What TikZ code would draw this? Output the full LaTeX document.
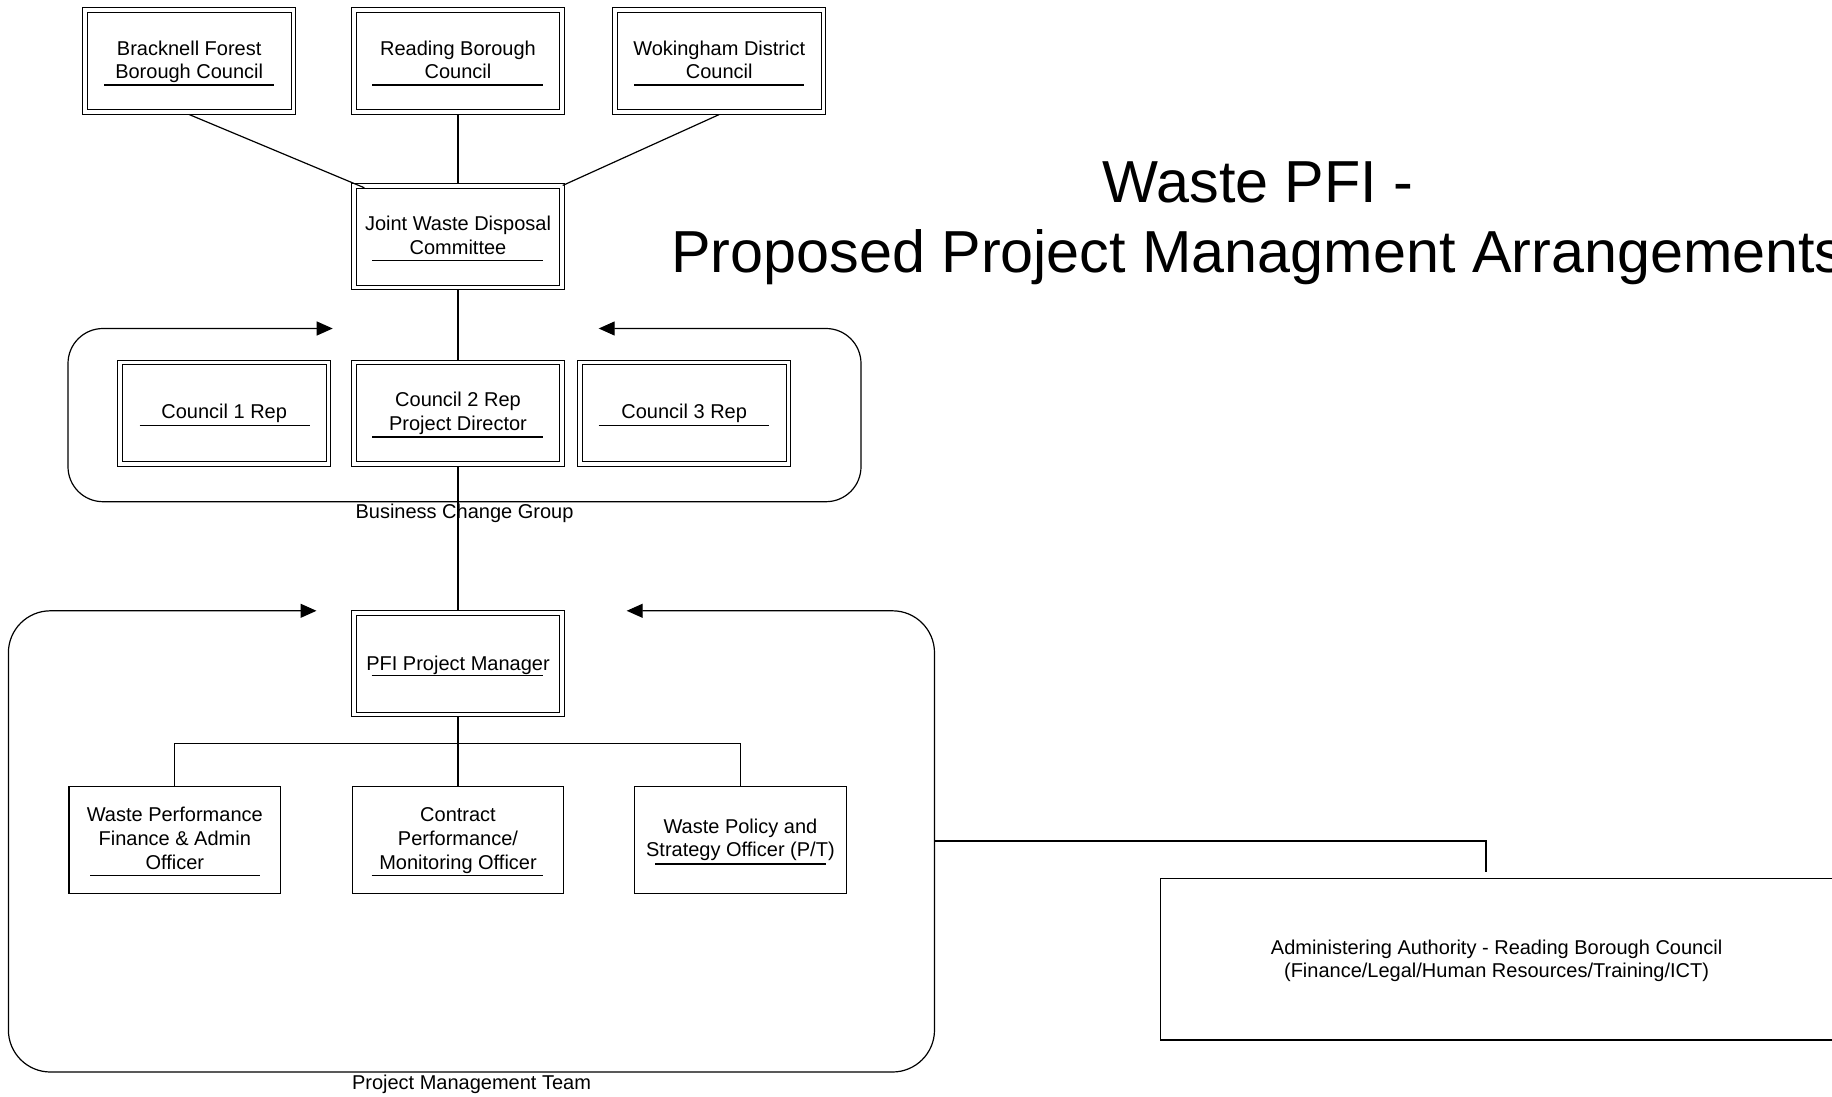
\documentclass[tikz,border=0pt]{standalone}
\usepackage{fontspec}
\setmainfont{Liberation Sans}
\usetikzlibrary{arrows.meta}
\begin{document}
\begin{tikzpicture}[x=1pt,y=-1pt,
  dbox/.style={draw, double, line width=1pt, double distance=3.6pt,
    minimum width=208.4pt, minimum height=101.5pt, inner sep=0pt},
  sbox/.style={draw, line width=1.2pt, minimum width=211.6pt,
    minimum height=106.6pt, inner sep=0pt},
  % multi-line texts are placed by the baseline of their last line
  txt/.style={anchor=base, align=center, inner sep=0pt,
    font=\fontsize{20}{23.7}\selectfont},
  uline/.style={line width=1.2pt},
  link/.style={line width=1.2pt},
  group/.style={line width=1.2pt, rounded corners=#1,
    {Triangle[length=16pt,width=14pt]}-{Triangle[length=16pt,width=14pt]}},
]
\useasboundingbox (0,0) rectangle (1832,1097);
\fill[white] (0,0) rectangle (1832,1097);
\clip (0,0) rectangle (1832,1097);

% councils and committee
\node[dbox] (brack) at (189.2,61) {};
\node[dbox] (read) at (458,61) {};
\node[dbox] (wok) at (719.2,61) {};
\node[dbox] (joint) at (458,236.7) {};
\node[txt] (brackT) at (189.2,79) {Bracknell Forest\\Borough Council};
\node[txt] (readT) at (458,79) {Reading Borough\\Council};
\node[txt] (wokT) at (719.2,79) {Wokingham District\\Council};
\node[txt] (jointT) at (458,254) {Joint Waste Disposal\\Committee};
\draw[uline] (104,85) -- (274,85);
\draw[uline] (372.3,85) -- (543,85);
\draw[uline] (634,85) -- (804.3,85);
\draw[uline] (372.3,260.7) -- (543,260.7);

% business change group
\draw[group=35pt] (332.7,328.5) -- (68,328.5) -- (68,501.7) -- (861,501.7)
  -- (861,328.5) -- (598.7,328.5);
\node[dbox] (c1) at (224.2,413.3) {};
\node[dbox] (c2) at (458,413.3) {};
\node[dbox] (c3) at (684.2,413.3) {};
\node[txt] (c1T) at (224.2,418.3) {Council 1 Rep};
\node[txt] (c2T) at (458,430) {Council 2 Rep\\Project Director};
\node[txt] (c3T) at (684.2,418.3) {Council 3 Rep};
\draw[uline] (139.5,425.7) -- (310,425.7);
\draw[uline] (372.2,437) -- (542.7,437);
\draw[uline] (598.7,425.7) -- (769.2,425.7);
\node[txt] (bcgL) at (464.5,518) {Business Change Group};

% project management team
\draw[group=42pt] (316.5,610.8) -- (8.4,610.8) -- (8.4,1072) -- (934.5,1072)
  -- (934.5,610.8) -- (626.7,610.8);
\node[dbox] (pfi) at (458,663.7) {};
\node[txt] (pfiT) at (458,670) {PFI Project Manager};
\draw[uline] (371.7,675.7) -- (542.6,675.7);
\node[sbox] (wp) at (174.8,840) {};
\node[sbox] (cp) at (458,840) {};
\node[sbox] (ws) at (740.4,840) {};
\node[txt] (wpT) at (174.8,869.3) {Waste Performance\\Finance \& Admin\\Officer};
\node[txt] (cpT) at (458,869.3) {Contract\\Performance/\\Monitoring Officer};
\node[txt] (wsT) at (740.4,856.7) {Waste Policy and\\Strategy Officer (P/T)};
\draw[uline] (90,875.7) -- (260,875.7);
\draw[uline] (371.7,875.7) -- (542.6,875.7);
\draw[uline] (655,864) -- (825.5,864);
\node[txt] (pmtL) at (471.5,1089.5) {Project Management Team};

% administering authority
\node[draw, line width=1.2pt, minimum width=673.3pt, minimum height=161.7pt,
  inner sep=0pt] (adm) at (1497.4,959.2) {};
\node[txt, font=\fontsize{20}{23.3}\selectfont] (admT) at (1496.6,977.3)
  {Administering Authority - Reading Borough Council\\(Finance/Legal/Human Resources/Training/ICT)};

% title
\node[anchor=base, align=center, inner sep=0pt,
  font=\fontsize{59.3}{70}\selectfont] (title) at (1258,272)
  {Waste PFI -\\Proposed Project Managment Arrangements};

% connectors
\draw[link] ([yshift=-2.3pt]brack.south) -- ([xshift=11pt,yshift=-2.3pt]joint.north west);
\draw[link] ([yshift=-2.3pt]read.south) -- ([yshift=2.3pt]joint.north);
\draw[link] ([yshift=-2.3pt]wok.south) -- (joint.north east);
\draw[link] ([yshift=-2.3pt]joint.south) -- ([yshift=2.3pt]c2.north);
\draw[link] ([yshift=-2.3pt]c2.south) -- ([yshift=2.3pt]pfi.north);
\coordinate (bus) at (458,743.3);
\draw[link] ([yshift=-2.3pt]pfi.south) -- (bus);
\draw[link] (wp.north) |- (bus) -| (ws.north);
\draw[link] (bus) -- (cp.north);
\coordinate (pmtE) at (934.5,841);
\coordinate (admTap) at (1486,871.7);
\draw[link] (pmtE) -| (admTap);
\end{tikzpicture}
\end{document}
